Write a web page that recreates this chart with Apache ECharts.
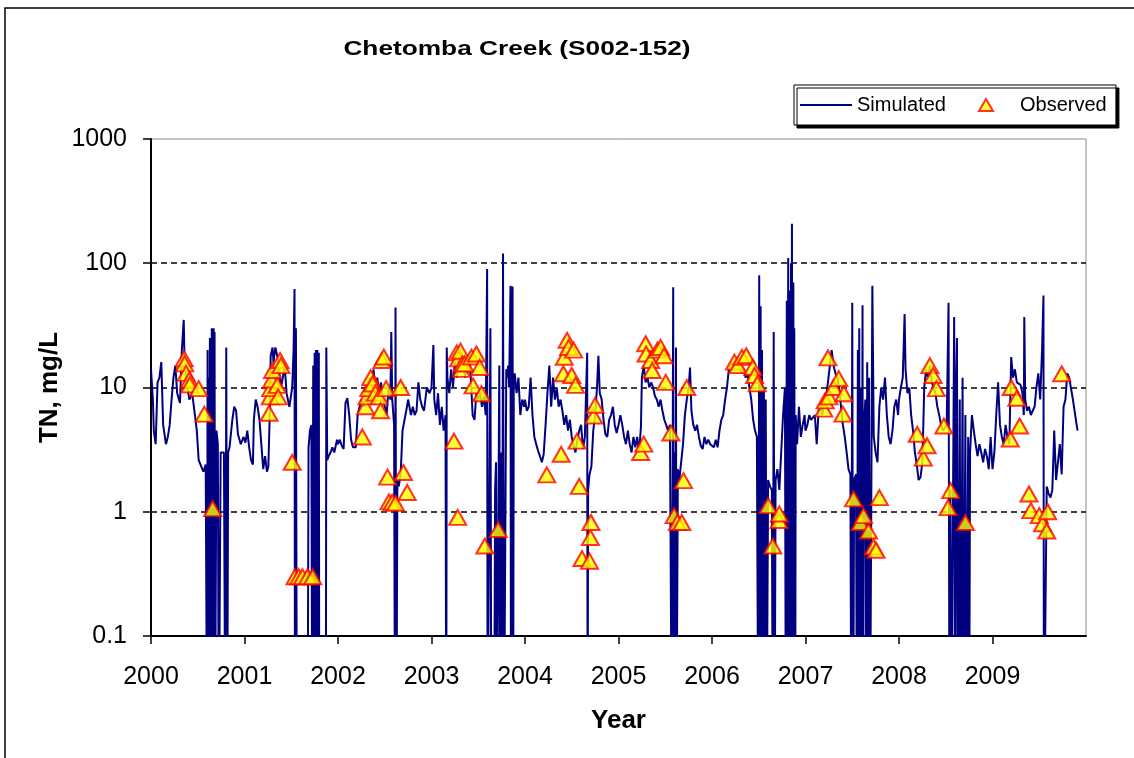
<!DOCTYPE html>
<html><head><meta charset="utf-8">
<script src="https://cdn.jsdelivr.net/npm/echarts@6/dist/echarts.min.js"></script>
<style>html,body{margin:0;padding:0;background:#fff}#c{width:1134px;height:758px}</style>
</head><body><div id="c"></div>
<script>
const chartTitle = 'Chetomba Creek (S002-152)';
const yearTicks = [2000,2001,2002,2003,2004,2005,2006,2007,2008,2009];

// Simulated TN (mg/L), [decimal year, value]; 0.01 = below plot floor
const sim2000 = [[2000.00,14],[2000.02,8],[2000.03,4.5],[2000.05,3.5],[2000.07,11],[2000.09,12],[2000.11,16],[2000.13,5],[2000.16,3.5],[2000.18,4],[2000.20,5],[2000.22,8],[2000.24,12],[2000.26,15],[2000.28,9],[2000.31,7.5],[2000.33,20],[2000.35,35],[2000.36,15],[2000.39,10],[2000.41,8],[2000.44,9],[2000.47,6],[2000.49,4.5],[2000.51,2.6],[2000.53,2.6],[2000.56,2.1],[2000.585,2.4],[2000.60,0.01],[2000.605,20],[2000.61,0.01],[2000.615,12],[2000.62,0.01],[2000.63,25],[2000.635,0.01],[2000.64,18],[2000.645,0.01],[2000.65,30],[2000.655,0.01],[2000.66,22],[2000.665,0.01],[2000.67,30],[2000.675,0.01],[2000.68,28],[2000.685,0.01],[2000.70,4.5],[2000.715,3.5],[2000.725,0.01],[2000.745,3],[2000.76,3],[2000.78,3],[2000.795,0.01],[2000.805,21],[2000.815,0.01],[2000.825,3],[2000.84,3.3],[2000.87,5.5],[2000.89,7],[2000.91,6.5],[2000.93,4.2],[2000.96,3.5],[2000.99,4]];
const sim2001 = [[2001.01,3.6],[2001.03,4.5],[2001.05,3.3],[2001.07,2.6],[2001.09,2.4],[2001.10,5.5],[2001.12,8],[2001.14,7],[2001.16,5.5],[2001.18,3.5],[2001.20,2.2],[2001.22,2.8],[2001.24,2.1],[2001.255,2.3],[2001.27,6],[2001.28,18],[2001.30,21],[2001.31,16],[2001.33,21],[2001.35,18],[2001.37,14],[2001.39,10],[2001.41,12],[2001.43,15],[2001.45,9],[2001.48,7],[2001.51,10],[2001.525,20],[2001.535,62],[2001.54,0.01],[2001.55,30],[2001.56,0.01],[2001.675,0.01],[2001.685,3.3],[2001.70,4.5],[2001.715,5],[2001.725,0.01],[2001.735,15],[2001.74,0.01],[2001.75,19],[2001.755,0.01],[2001.765,20],[2001.77,0.01],[2001.78,20],[2001.785,0.01],[2001.795,19],[2001.80,0.01],[2001.81,0.01],[2001.87,0.01],[2001.875,21],[2001.885,2.6],[2001.90,2.8],[2001.92,3.0],[2001.94,3.3],[2001.96,3.0],[2001.99,3.8]];
const sim2002 = [[2002.00,3.5],[2002.02,3.8],[2002.04,3.4],[2002.06,3.2],[2002.08,7.5],[2002.10,8.2],[2002.12,6],[2002.14,3.8],[2002.16,3.3],[2002.19,3.3],[2002.21,6],[2002.23,6],[2002.25,8],[2002.28,7],[2002.30,10],[2002.32,9],[2002.34,12],[2002.36,10],[2002.38,14],[2002.40,10],[2002.42,12],[2002.44,9],[2002.46,11],[2002.48,8],[2002.50,7],[2002.52,6],[2002.54,10],[2002.56,8],[2002.57,28],[2002.58,8],[2002.60,5],[2002.61,0.01],[2002.615,44],[2002.625,0.01],[2002.635,1.8],[2002.65,1.6],[2002.67,2.0],[2002.69,4.5],[2002.71,4.5],[2002.73,6.5],[2002.75,8],[2002.78,6],[2002.80,7],[2002.82,6],[2002.84,6.5],[2002.86,11],[2002.88,8],[2002.90,7],[2002.92,6.5],[2002.95,10],[2002.98,9]];
const sim2003 = [[2003.00,10],[2003.02,22],[2003.03,8],[2003.05,6],[2003.07,9],[2003.09,5],[2003.11,7],[2003.13,4.5],[2003.15,6],[2003.158,0.01],[2003.163,21],[2003.17,12],[2003.19,9],[2003.21,14],[2003.23,10],[2003.25,16],[2003.27,12],[2003.28,15],[2003.30,20],[2003.32,14],[2003.34,17],[2003.36,12],[2003.38,15],[2003.40,18],[2003.42,12],[2003.44,6],[2003.46,5.5],[2003.48,9],[2003.50,8],[2003.52,9],[2003.54,7],[2003.56,8.5],[2003.58,6],[2003.595,90],[2003.60,0.01],[2003.62,0.01],[2003.63,30],[2003.64,0.01],[2003.67,0.01],[2003.68,1.5],[2003.69,2.5],[2003.70,0.01],[2003.72,0.01],[2003.725,15],[2003.735,0.01],[2003.745,3],[2003.755,0.01],[2003.765,120],[2003.775,0.01],[2003.79,0.01],[2003.80,14],[2003.81,12],[2003.82,15],[2003.83,10],[2003.845,66],[2003.85,0.01],[2003.86,0.01],[2003.867,65],[2003.873,0.01],[2003.88,12],[2003.89,13],[2003.91,9],[2003.93,12],[2003.95,6],[2003.97,8],[2003.99,7]];
const sim2004 = [[2004.00,8],[2004.02,6.5],[2004.04,7],[2004.06,12],[2004.08,6],[2004.10,4],[2004.12,3.5],[2004.14,3.1],[2004.16,2.8],[2004.18,2.5],[2004.20,2.9],[2004.22,5],[2004.24,9],[2004.26,15],[2004.28,7],[2004.30,12],[2004.32,8],[2004.34,10],[2004.36,7],[2004.38,8],[2004.40,6.5],[2004.42,5],[2004.44,6],[2004.46,4.5],[2004.48,5.5],[2004.50,4],[2004.52,3.4],[2004.54,3],[2004.56,3.8],[2004.58,4.5],[2004.60,5],[2004.62,3.2],[2004.64,4],[2004.665,19],[2004.67,0.01],[2004.675,1.5],[2004.69,2.0],[2004.71,2.3],[2004.73,4.5],[2004.75,6],[2004.77,10],[2004.785,18],[2004.80,9],[2004.82,8],[2004.84,5.5],[2004.86,4.2],[2004.88,4],[2004.90,5.5],[2004.92,6],[2004.94,7],[2004.96,5],[2004.98,4.3]];
const sim2005 = [[2005.00,5],[2005.02,6],[2005.04,5],[2005.06,4],[2005.08,3.5],[2005.10,4.5],[2005.12,3.5],[2005.14,3],[2005.16,4],[2005.18,3.3],[2005.20,4],[2005.22,3],[2005.24,4.8],[2005.25,12],[2005.27,15],[2005.29,11],[2005.31,12],[2005.33,10],[2005.35,11],[2005.37,10],[2005.39,8.5],[2005.41,8],[2005.43,7],[2005.45,8],[2005.47,6.5],[2005.49,5.5],[2005.51,5],[2005.53,4.5],[2005.55,5],[2005.57,0.01],[2005.585,64],[2005.59,0.01],[2005.60,3],[2005.605,0.01],[2005.615,21],[2005.62,0.01],[2005.63,0.01],[2005.635,2.2],[2005.65,1.8],[2005.67,2.5],[2005.69,3.5],[2005.71,6],[2005.73,8],[2005.75,10],[2005.765,14.5],[2005.78,6.5],[2005.80,5],[2005.82,4.5],[2005.84,5],[2005.86,4],[2005.88,3.4],[2005.90,3.2],[2005.92,4],[2005.94,3.5],[2005.96,3.8],[2005.98,3.5]];
const sim2006 = [[2006.00,3.5],[2006.02,3.3],[2006.04,3.8],[2006.06,3.3],[2006.08,4.5],[2006.10,5.5],[2006.12,6],[2006.14,8],[2006.16,10],[2006.18,14],[2006.20,15],[2006.22,16],[2006.24,14],[2006.26,16],[2006.28,15],[2006.30,14],[2006.32,13],[2006.34,14],[2006.36,12],[2006.38,13],[2006.40,10],[2006.42,8],[2006.44,5.5],[2006.46,4.5],[2006.48,4],[2006.495,0.01],[2006.505,80],[2006.51,0.01],[2006.52,45],[2006.525,0.01],[2006.535,20],[2006.545,0.01],[2006.555,10],[2006.565,0.01],[2006.575,8],[2006.585,0.01],[2006.60,1.8],[2006.62,1.6],[2006.64,1.5],[2006.65,0.01],[2006.66,28],[2006.67,0.01],[2006.68,1.8],[2006.70,2.2],[2006.72,1.5],[2006.74,3],[2006.76,6],[2006.78,10],[2006.79,0.01],[2006.80,50],[2006.805,0.01],[2006.815,110],[2006.82,0.01],[2006.83,60],[2006.835,0.01],[2006.845,100],[2006.85,0.01],[2006.855,208],[2006.86,0.01],[2006.87,70],[2006.875,0.01],[2006.88,30],[2006.89,0.01],[2006.895,6],[2006.91,3.5],[2006.93,7],[2006.95,4],[2006.97,5],[2006.99,6]];
const sim2007 = [[2007.00,4.5],[2007.02,5],[2007.04,6],[2007.06,5.5],[2007.08,5.5],[2007.10,6],[2007.12,3.5],[2007.14,6.5],[2007.16,7],[2007.18,6],[2007.20,8],[2007.22,8.5],[2007.24,11],[2007.26,11],[2007.28,20],[2007.30,15],[2007.32,13],[2007.34,12],[2007.36,10],[2007.38,7],[2007.40,5],[2007.42,4],[2007.44,3],[2007.46,2.2],[2007.48,2],[2007.49,0.01],[2007.50,48],[2007.51,0.01],[2007.52,1.8],[2007.54,2],[2007.55,0.01],[2007.56,20],[2007.565,0.01],[2007.575,30],[2007.58,0.01],[2007.59,10],[2007.60,0.01],[2007.61,46],[2007.615,0.01],[2007.625,5],[2007.64,8],[2007.65,0.01],[2007.66,16],[2007.67,0.01],[2007.68,12],[2007.69,0.01],[2007.70,0.01],[2007.715,66],[2007.73,4],[2007.75,3],[2007.77,2.5],[2007.79,7],[2007.81,10],[2007.83,8],[2007.85,12],[2007.87,6],[2007.89,4],[2007.91,3.5],[2007.93,4.5],[2007.95,7],[2007.97,8],[2007.99,6]];
const sim2008 = [[2008.00,8],[2008.02,10],[2008.04,12],[2008.06,39],[2008.07,14],[2008.09,9],[2008.11,10],[2008.13,6],[2008.15,4.5],[2008.17,3],[2008.19,2.4],[2008.21,1.8],[2008.23,1.9],[2008.25,2.5],[2008.27,10],[2008.29,14],[2008.31,12],[2008.33,15],[2008.35,11],[2008.37,10],[2008.39,9],[2008.41,7],[2008.43,6],[2008.45,5],[2008.47,4.5],[2008.49,4.5],[2008.51,5],[2008.53,48],[2008.54,0.01],[2008.55,1.5],[2008.56,0.01],[2008.58,0.01],[2008.59,37],[2008.60,0.01],[2008.61,10],[2008.62,25],[2008.63,0.01],[2008.65,8],[2008.66,0.01],[2008.68,12],[2008.69,0.01],[2008.71,6],[2008.72,0.01],[2008.74,4],[2008.75,0.01],[2008.76,3],[2008.78,6],[2008.80,4.5],[2008.82,3.5],[2008.84,2.8],[2008.86,3.5],[2008.88,3],[2008.90,2.5],[2008.92,3.2],[2008.94,2.8],[2008.96,2.2],[2008.98,4]];
const sim2009 = [[2009.00,2.2],[2009.02,3],[2009.04,6],[2009.06,11],[2009.08,5],[2009.10,4],[2009.12,3.5],[2009.14,5],[2009.16,4],[2009.18,3.5],[2009.20,17.6],[2009.22,12],[2009.24,14],[2009.26,11],[2009.28,11],[2009.30,10.5],[2009.32,9],[2009.335,6],[2009.34,37],[2009.35,8],[2009.37,6.5],[2009.39,7],[2009.41,6],[2009.43,6.5],[2009.45,7],[2009.47,10],[2009.49,13],[2009.51,8],[2009.53,20],[2009.545,55],[2009.55,0.01],[2009.57,0.01],[2009.58,1.6],[2009.60,1.4],[2009.62,1.3],[2009.64,1.5],[2009.66,4.5],[2009.68,1.8],[2009.70,2.5],[2009.72,3.5],[2009.74,2],[2009.76,7],[2009.78,8],[2009.80,13],[2009.82,12],[2009.84,12],[2009.86,8],[2009.88,8],[2009.90,5],[2009.91,4.5]];

// Observed TN samples (mg/L), [decimal year, value]
const observed = [[2000.355,17],[2000.36,15.5],[2000.375,13],[2000.41,11.5],[2000.415,10.5],[2000.51,9.8],[2000.57,6.1],[2000.66,1.06],
[2001.263,6.2],[2001.275,8.4],[2001.28,9.8],[2001.29,11.5],[2001.30,13.7],[2001.35,10.4],[2001.36,8.4],[2001.38,16.5],[2001.39,15],[2001.51,2.5],[2001.54,0.3],[2001.58,0.3],[2001.62,0.3],[2001.675,0.3],[2001.73,0.3],
[2002.26,4.0],[2002.295,7],[2002.31,8.4],[2002.33,9.8],[2002.35,12],[2002.37,10.7],[2002.40,9],[2002.44,8.4],[2002.455,6.5],[2002.47,16.5],[2002.49,17.6],[2002.515,9.8],[2002.53,1.9],[2002.545,1.2],[2002.58,1.19],[2002.615,1.17],[2002.67,10],[2002.70,2.07],[2002.74,1.43],
[2003.24,3.7],[2003.27,19],[2003.28,0.9],[2003.29,17],[2003.31,19.6],[2003.32,14],[2003.33,15.5],[2003.355,15.5],[2003.427,17.6],[2003.444,10.3],[2003.48,18.6],[2003.515,14.5],[2003.535,8.9],[2003.57,0.53],[2003.713,0.72],
[2004.233,1.98],[2004.387,2.9],[2004.41,12.9],[2004.42,17.5],[2004.45,24],[2004.466,21],[2004.50,12.5],[2004.52,20],[2004.54,10.4],[2004.556,3.7],[2004.58,1.6],[2004.61,0.42],[2004.69,0.40],[2004.70,0.62],[2004.705,0.82],[2004.735,5.9],[2004.75,7.2],
[2005.237,3.0],[2005.27,3.5],[2005.29,22.5],[2005.295,18.6],[2005.344,16.5],[2005.36,13.7],[2005.416,20],[2005.45,21],[2005.487,18],[2005.505,11],[2005.56,4.3],[2005.595,0.93],[2005.63,0.82],[2005.677,0.82],[2005.695,1.78],[2005.73,10],
[2006.24,16],[2006.276,15],[2006.32,17.5],[2006.366,18],[2006.437,14.5],[2006.455,12.5],[2006.484,10.7],[2006.60,1.12],[2006.65,0.53],[2006.716,0.85],[2006.72,0.96],
[2007.195,6.7],[2007.21,7.8],[2007.24,17.3],[2007.25,8.4],[2007.30,10],[2007.355,11.8],[2007.40,6.1],[2007.41,8.9],[2007.514,1.27],[2007.585,0.82],[2007.62,0.93],[2007.674,0.70],[2007.727,0.52],[2007.755,0.49],[2007.79,1.3],
[2008.195,4.2],[2008.26,2.7],[2008.30,3.4],[2008.33,15],[2008.365,12.5],[2008.40,9.8],[2008.48,4.9],[2008.525,1.08],[2008.553,1.48],[2008.71,0.82],
[2009.19,3.85],[2009.20,10],[2009.26,8.2],[2009.29,4.9],[2009.39,1.39],[2009.41,1.02],[2009.50,0.93],[2009.535,0.8],[2009.58,0.70],[2009.59,1.0],[2009.74,12.9]];

const simulated = [].concat(sim2000, sim2001, sim2002, sim2003, sim2004, sim2005, sim2006, sim2007, sim2008, sim2009);

const FONT = '"Liberation Sans", Arial, sans-serif';
const legendText = {fontSize: 20, fontFamily: FONT, color: '#000'};
const chart = echarts.init(document.getElementById('c'));
chart.setOption({
  animation: false,
  backgroundColor: '#fff',
  graphic: [
    {type: 'rect', silent: true, z: -10, shape: {x: 5, y: 8, width: 1140, height: 760},
     style: {fill: 'none', stroke: '#000', lineWidth: 1.5}},
    {type: 'text', silent: true, x: 517, y: 49, scaleX: 1.25,
     style: {text: chartTitle, x: 0, y: 0, textAlign: 'center', textVerticalAlign: 'middle',
             font: 'bold 21px ' + FONT, fill: '#000'}}
  ],
  legend: [
    {
      left: 794, top: 85, orient: 'horizontal', z: 4,
      itemWidth: 52, itemHeight: 2,
      padding: [10, 170, 10, 6],
      borderColor: '#000', borderWidth: 1, backgroundColor: '#fff',
      shadowColor: '#000', shadowOffsetX: 3, shadowOffsetY: 3, shadowBlur: 0,
      textStyle: legendText,
      data: [{name: 'Simulated', icon: 'rect'}]
    },
    {
      left: 978, top: 85, orient: 'horizontal', z: 5,
      itemWidth: 14, itemHeight: 12,
      padding: [10, 0, 10, 0],
      textStyle: Object.assign({padding: [0, 0, 0, 22]}, legendText),
      data: [{name: 'Observed', icon: 'triangle'}]
    }
  ],
  grid: {left: 151, top: 139, right: 48, bottom: 122, show: true, borderColor: '#8c8c8c', borderWidth: 1},
  xAxis: {
    type: 'value', min: 2000, max: 2010, interval: 1,
    name: 'Year', nameLocation: 'middle', nameGap: 72,
    nameTextStyle: {fontSize: 26, fontWeight: 'bold', fontFamily: FONT, color: '#000'},
    axisLine: {lineStyle: {color: '#000', width: 2}},
    axisTick: {show: true, inside: false, length: 8, lineStyle: {color: '#000', width: 1.5}, customValues: yearTicks},
    axisLabel: {fontSize: 25, fontFamily: FONT, color: '#000', margin: 29, customValues: yearTicks,
                formatter: v => (v >= 2010 ? '' : String(Math.round(v)))},
    splitLine: {show: false}
  },
  yAxis: {
    type: 'log', logBase: 10, min: 0.1, max: 1000,
    name: 'TN, mg/L', nameLocation: 'middle', nameGap: 88, nameMoveOverlap: false,
    nameTextStyle: {fontSize: 26, fontWeight: 'bold', fontFamily: FONT, color: '#000'},
    axisLine: {show: true, lineStyle: {color: '#000', width: 2}},
    axisTick: {show: true, inside: false, length: 8, lineStyle: {color: '#000', width: 1.5}},
    axisLabel: {fontSize: 25, fontFamily: FONT, color: '#000', margin: 24,
                formatter: v => (v < 0.5 ? '0.1' : String(Math.round(v)))},
    splitLine: {show: true, showMinLine: false, showMaxLine: false,
                lineStyle: {color: '#000', type: [6, 4], width: 1.5}},
    minorTick: {show: false}
  },
  series: [
    {name: 'Simulated', type: 'line', data: simulated, symbol: 'none', clip: true, z: 2,
     lineStyle: {color: '#000080', width: 2}, itemStyle: {color: '#000080'}},
    {name: 'Observed', type: 'scatter', data: observed, symbol: 'triangle', symbolSize: [17, 15], z: 3,
     itemStyle: {color: '#FFFF00', borderColor: '#FF0000', borderWidth: 2}}
  ]
});
</script></body></html>
